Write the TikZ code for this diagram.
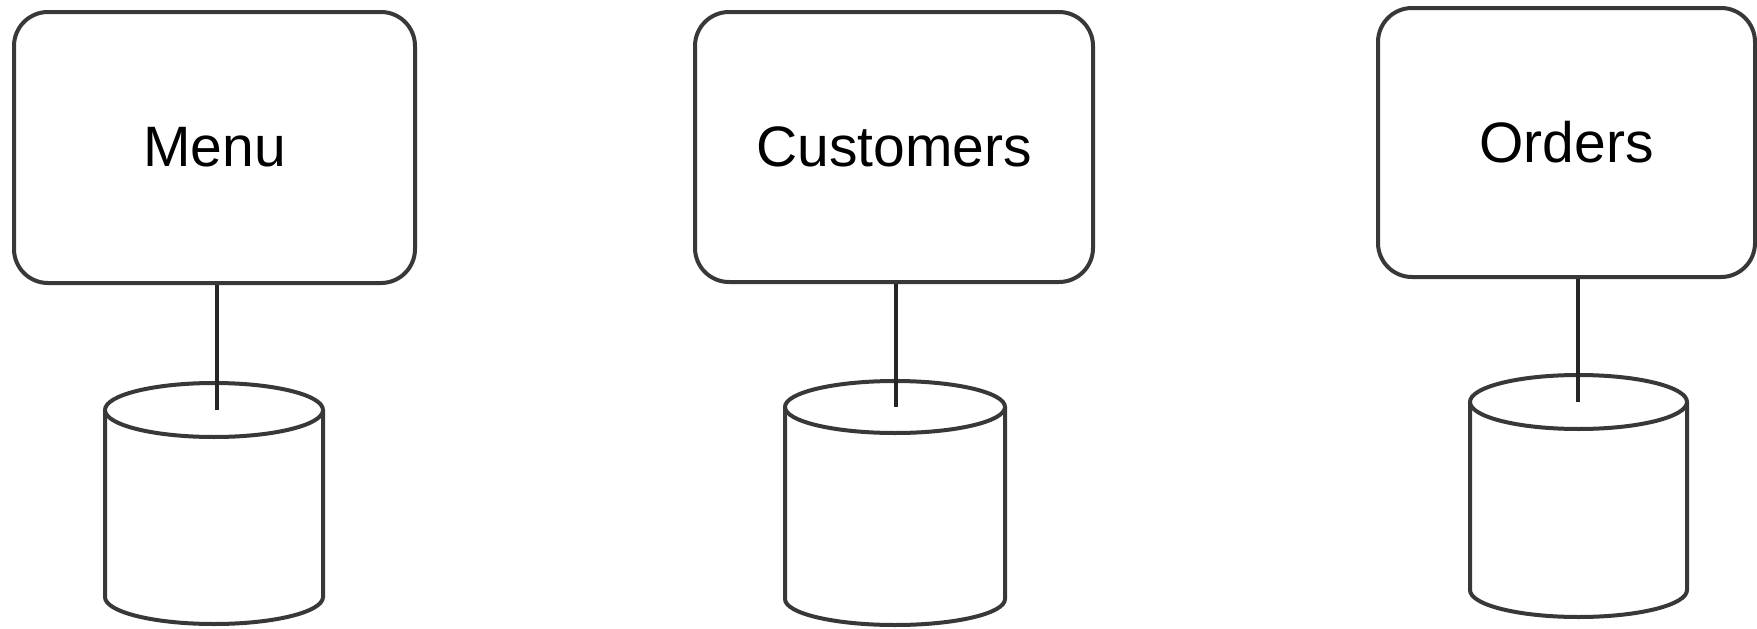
\documentclass[tikz,border=0pt]{standalone}
\usepackage{fontspec}
\setmainfont{Liberation Sans}
\begin{document}
\begin{tikzpicture}[x=1pt,y=1pt,
  line width=4pt,
  ink/.style={draw=black!78},
  box/.style={ink, rounded corners=34pt, fill=white, inner sep=0pt,
    font=\fontsize{57}{62}\selectfont},
  link/.style={draw=black!85, line width=4pt},
  dbshape/.style={ink, fill=white}
]
\useasboundingbox (0,0) rectangle (1757,-629);

% boxes
\node[box, minimum width=401pt, minimum height=271pt] (menu) at (214.5,-147.5) {Menu};
\node[box, minimum width=398pt, minimum height=270pt] (cust) at (894,-147) {Customers};
\node[box, minimum width=377pt, minimum height=269pt] (ord) at (1566.5,-142.5) {Orders};

% cylinders
\draw[dbshape] (105,-410) -- (105,-597) arc[start angle=180,end angle=360,x radius=109,y radius=27] -- (323,-410);
\draw[dbshape] (214,-410) ellipse[x radius=109,y radius=27];
\coordinate (menudb) at (217,-410);

\draw[dbshape] (785,-407) -- (785,-599) arc[start angle=180,end angle=360,x radius=110,y radius=26] -- (1005,-407);
\draw[dbshape] (895,-407) ellipse[x radius=110,y radius=26];
\coordinate (custdb) at (896,-407);

\draw[dbshape] (1470,-402) -- (1470,-590) arc[start angle=180,end angle=360,x radius=108.5,y radius=27] -- (1687,-402);
\draw[dbshape] (1578.5,-402) ellipse[x radius=108.5,y radius=27];
\coordinate (orddb) at (1578,-402);

% connectors
\draw[link] (menu.south -| menudb) -- (menudb);
\draw[link] (cust.south -| custdb) -- (custdb);
\draw[link] (ord.south -| orddb) -- (orddb);
\end{tikzpicture}
\end{document}
